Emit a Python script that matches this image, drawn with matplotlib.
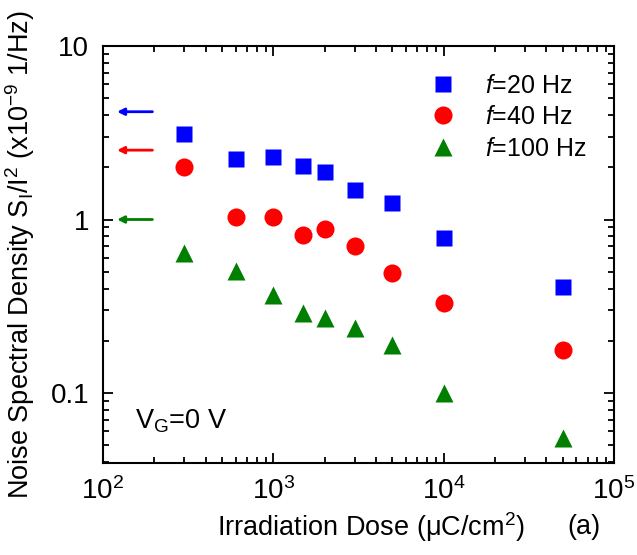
import matplotlib
matplotlib.use("Agg")
import matplotlib.pyplot as plt
from matplotlib.ticker import LogLocator, FixedLocator, FixedFormatter, NullFormatter

plt.rcParams['font.family'] = ['Liberation Sans', 'DejaVu Sans']
plt.rcParams['mathtext.fontset'] = 'custom'
plt.rcParams['mathtext.rm'] = 'Liberation Sans'
plt.rcParams['mathtext.it'] = 'Liberation Sans:italic'
plt.rcParams['mathtext.default'] = 'regular'

dose = [300, 600, 1000, 1500, 2000, 3000, 5000, 10000, 50000]
s_20 = [3.11, 2.23, 2.29, 2.04, 1.89, 1.47, 1.24, 0.785, 0.41]
s_40 = [2.01, 1.03, 1.03, 0.815, 0.88, 0.706, 0.49, 0.329, 0.177]
s_100 = [0.64, 0.505, 0.367, 0.288, 0.269, 0.236, 0.19, 0.10, 0.055]
pristine = [4.18, 2.51, 1.0]  # arrow levels (blue, red, green)

fig = plt.figure(figsize=(6.37, 5.55), dpi=100)
ax = fig.add_axes([103/637, 1-463/555, (614-103)/637, (463-46)/555])

blue, red, green = '#0000ff', '#ff0000', '#007f00'
ax.plot(dose, s_20, 's', color=blue, ms=11, mec='none', label=r'$\mathit{f}$=20 Hz')
ax.plot(dose, s_40, 'o', color=red, ms=13, mec='none', label=r'$\mathit{f}$=40 Hz')
ax.plot(dose, s_100, '^', color=green, ms=13, mec='none', label=r'$\mathit{f}$=100 Hz')

for lvl, c in zip(pristine, [blue, red, green]):
    ax.annotate('', xy=(121, lvl), xytext=(195, lvl),
                arrowprops=dict(arrowstyle='-|>', color=c, lw=2, mutation_scale=10,
                                shrinkA=0, shrinkB=0))

ax.set_xscale('log')
ax.set_yscale('log')
ax.set_xlim(100, 1e5)
ax.set_ylim(0.0395, 10)

ax.yaxis.set_major_locator(FixedLocator([0.1, 1, 10]))
ax.yaxis.set_major_formatter(FixedFormatter(['0.1', '1', '10']))
ax.yaxis.set_minor_locator(LogLocator(base=10, subs=range(2, 10)))
ax.yaxis.set_minor_formatter(NullFormatter())
ax.xaxis.set_major_locator(FixedLocator([1e2, 1e3, 1e4, 1e5]))
ax.xaxis.set_major_formatter(FixedFormatter([r'10$^2$', r'10$^3$', r'10$^4$', r'10$^5$']))
ax.xaxis.set_minor_locator(LogLocator(base=10, subs=range(2, 10)))
ax.xaxis.set_minor_formatter(NullFormatter())

ax.tick_params(which='both', direction='in', top=True, right=True, labelsize=20, width=1.3)
ax.tick_params(which='major', length=7, pad=10)
ax.tick_params(which='minor', length=4)
for sp in ax.spines.values():
    sp.set_linewidth(1.5)

ax.set_xlabel(r'Irradiation Dose ($\mu$C/cm$^2$)', fontsize=19.5)
ax.xaxis.set_label_coords(0.525, -0.113)
ax.set_ylabel(r'Noise Spectral Density S$_I$/I$^2$ (x10$^{-9}$ 1/Hz)', fontsize=19.5, labelpad=10)
ax.text(0.973, -0.153, '(a)', transform=ax.transAxes, fontsize=19.5, ha='right', va='center')
ax.text(0.062, 0.1, r'V$_G$=0 V', transform=ax.transAxes, fontsize=19.5, ha='left', va='center')

ax.legend(loc='upper right', bbox_to_anchor=(0.975, 0.97), frameon=False, fontsize=18,
          handletextpad=0.9, labelspacing=0.3, borderaxespad=0.2, handlelength=1.5)

fig.savefig('out.png', dpi=100)
